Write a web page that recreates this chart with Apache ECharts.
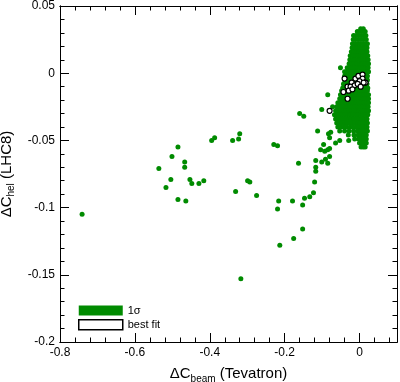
<!DOCTYPE html>
<html>
<head>
<meta charset="utf-8">
<script src="https://cdn.jsdelivr.net/npm/echarts@6/dist/echarts.min.js"></script>
<style>
  html, body { margin: 0; padding: 0; background: #fff; }
  #chart { width: 400px; height: 382px; }
</style>
</head>
<body>
<div id="chart"></div>
<script>
// axis ranges / tick steps
const xRange = [-0.8, 0.1]
const yRange = [-0.2, 0.05]
const xMajor = 0.2
const xMinor = 0.04
const yMajor = 0.05
const yMinor = 0.01

// 1 sigma scan points: dense band near the origin
const sigmaCore = [
  [0.003, 0.033], [0.010, 0.033],
  [-0.006, 0.031], [0.001, 0.031], [0.009, 0.031], [0.015, 0.031],
  [-0.016, 0.028], [-0.009, 0.028], [-0.002, 0.028], [0.005, 0.028], [0.012, 0.028], [0.017, 0.028],
  [-0.017, 0.025], [-0.010, 0.025], [-0.003, 0.025], [0.004, 0.025], [0.011, 0.025], [0.018, 0.025],
  [-0.019, 0.022], [-0.012, 0.022], [-0.005, 0.022], [0.002, 0.022], [0.009, 0.022], [0.016, 0.022], [0.021, 0.022],
  [-0.020, 0.019], [-0.013, 0.019], [-0.006, 0.019], [0.001, 0.019], [0.008, 0.019], [0.015, 0.019], [0.020, 0.019],
  [-0.022, 0.016], [-0.015, 0.016], [-0.008, 0.016], [-0.001, 0.016], [0.006, 0.016], [0.013, 0.016], [0.020, 0.016],
  [-0.025, 0.013], [-0.018, 0.013], [-0.011, 0.013], [-0.004, 0.013], [0.003, 0.013], [0.010, 0.013], [0.017, 0.013], [0.022, 0.013],
  [-0.026, 0.010], [-0.019, 0.010], [-0.012, 0.010], [-0.005, 0.010], [0.002, 0.010], [0.009, 0.010], [0.016, 0.010], [0.023, 0.010],
  [-0.028, 0.007], [-0.021, 0.007], [-0.014, 0.007], [-0.007, 0.007], [0.000, 0.007], [0.007, 0.007], [0.014, 0.007], [0.021, 0.007], [0.024, 0.007],
  [-0.051, 0.004], [-0.033, 0.004], [-0.026, 0.004], [-0.019, 0.004], [-0.012, 0.004], [-0.005, 0.004], [0.002, 0.004], [0.009, 0.004], [0.016, 0.004], [0.023, 0.004],
  [-0.040, 0.001], [-0.035, 0.001], [-0.028, 0.001], [-0.021, 0.001], [-0.014, 0.001], [-0.007, 0.001], [0.000, 0.001], [0.007, 0.001], [0.014, 0.001], [0.021, 0.001], [0.024, 0.001],
  [-0.040, -0.002], [-0.033, -0.002], [-0.026, -0.002], [-0.019, -0.002], [-0.012, -0.002], [-0.005, -0.002], [0.002, -0.002], [0.009, -0.002], [0.016, -0.002], [0.021, -0.002],
  [-0.040, -0.005], [-0.033, -0.005], [-0.026, -0.005], [-0.019, -0.005], [-0.012, -0.005], [-0.005, -0.005], [0.002, -0.005], [0.009, -0.005], [0.016, -0.005], [0.021, -0.005],
  [-0.043, -0.008], [-0.036, -0.008], [-0.029, -0.008], [-0.022, -0.008], [-0.015, -0.008], [-0.008, -0.008], [-0.001, -0.008], [0.006, -0.008], [0.013, -0.008], [0.020, -0.008],
  [-0.045, -0.011], [-0.038, -0.011], [-0.031, -0.011], [-0.024, -0.011], [-0.017, -0.011], [-0.010, -0.011], [-0.003, -0.011], [0.004, -0.011], [0.011, -0.011], [0.018, -0.011], [0.022, -0.011],
  [-0.048, -0.013], [-0.041, -0.013], [-0.034, -0.013], [-0.027, -0.013], [-0.020, -0.013], [-0.013, -0.013], [-0.006, -0.013], [0.001, -0.013], [0.008, -0.013], [0.015, -0.013], [0.021, -0.013],
  [-0.051, -0.016], [-0.044, -0.016], [-0.037, -0.016], [-0.030, -0.016], [-0.023, -0.016], [-0.016, -0.016], [-0.009, -0.016], [-0.002, -0.016], [0.005, -0.016], [0.012, -0.016], [0.019, -0.016], [0.024, -0.016],
  [-0.053, -0.019], [-0.046, -0.019], [-0.039, -0.019], [-0.032, -0.019], [-0.025, -0.019], [-0.018, -0.019], [-0.011, -0.019], [-0.004, -0.019], [0.003, -0.019], [0.010, -0.019], [0.017, -0.019], [0.024, -0.019],
  [-0.058, -0.022], [-0.051, -0.022], [-0.044, -0.022], [-0.037, -0.022], [-0.030, -0.022], [-0.023, -0.022], [-0.016, -0.022], [-0.009, -0.022], [-0.002, -0.022], [0.005, -0.022], [0.012, -0.022], [0.019, -0.022], [0.024, -0.022],
  [-0.061, -0.025], [-0.054, -0.025], [-0.047, -0.025], [-0.040, -0.025], [-0.033, -0.025], [-0.026, -0.025], [-0.019, -0.025], [-0.012, -0.025], [-0.005, -0.025], [0.002, -0.025], [0.009, -0.025], [0.016, -0.025], [0.023, -0.025],
  [-0.064, -0.028], [-0.057, -0.028], [-0.050, -0.028], [-0.043, -0.028], [-0.036, -0.028], [-0.029, -0.028], [-0.022, -0.028], [-0.015, -0.028], [-0.008, -0.028], [-0.001, -0.028], [0.006, -0.028], [0.013, -0.028], [0.020, -0.028], [0.024, -0.028],
  [-0.067, -0.031], [-0.060, -0.031], [-0.053, -0.031], [-0.046, -0.031], [-0.039, -0.031], [-0.032, -0.031], [-0.025, -0.031], [-0.018, -0.031], [-0.011, -0.031], [-0.004, -0.031], [0.003, -0.031], [0.010, -0.031], [0.017, -0.031], [0.022, -0.031],
  [-0.064, -0.034], [-0.057, -0.034], [-0.050, -0.034], [-0.043, -0.034], [-0.036, -0.034], [-0.029, -0.034], [-0.022, -0.034], [-0.015, -0.034], [-0.008, -0.034], [-0.001, -0.034], [0.006, -0.034], [0.013, -0.034], [0.020, -0.034],
  [-0.061, -0.037], [-0.054, -0.037], [-0.047, -0.037], [-0.040, -0.037], [-0.033, -0.037], [-0.026, -0.037], [-0.019, -0.037], [-0.012, -0.037], [-0.005, -0.037], [0.002, -0.037], [0.009, -0.037], [0.016, -0.037], [0.021, -0.037],
  [-0.058, -0.040], [-0.050, -0.040], [-0.042, -0.040], [-0.034, -0.040], [-0.025, -0.040], [-0.017, -0.040], [-0.008, -0.040], [-0.001, -0.040], [0.006, -0.040], [0.013, -0.040], [0.020, -0.040],
  [-0.053, -0.043], [-0.040, -0.043], [-0.028, -0.043], [-0.016, -0.043], [-0.006, -0.043], [0.002, -0.043], [0.009, -0.043], [0.016, -0.043], [0.021, -0.043],
  [-0.030, -0.046], [-0.015, -0.046], [-0.004, -0.046], [0.004, -0.046], [0.011, -0.046], [0.018, -0.046],
  [-0.013, -0.049], [-0.003, -0.049], [0.005, -0.049], [0.012, -0.049], [0.018, -0.049],
  [0.000, -0.052], [0.007, -0.052], [0.013, -0.052], [0.018, -0.052],
  [0.004, -0.055], [0.010, -0.055], [0.015, -0.055]
]

// 1 sigma scan points: scattered ones
const sigmaOutliers = [
  [-0.741, -0.105],
  [-0.536, -0.071], [-0.517, -0.085], [-0.504, -0.079], [-0.501, -0.062], [-0.485, -0.055], [-0.485, -0.094],
  [-0.467, -0.066], [-0.467, -0.070], [-0.464, -0.095], [-0.453, -0.079], [-0.448, -0.082], [-0.429, -0.082], [-0.416, -0.080],
  [-0.395, -0.050], [-0.387, -0.048], [-0.339, -0.050], [-0.323, -0.049], [-0.320, -0.045], [-0.331, -0.088], [-0.317, -0.153],
  [-0.299, -0.080], [-0.293, -0.081], [-0.275, -0.091], [-0.229, -0.053], [-0.219, -0.054], [-0.219, -0.101], [-0.216, -0.095],
  [-0.213, -0.128], [-0.179, -0.095], [-0.176, -0.123], [-0.163, -0.067], [-0.160, -0.030], [-0.149, -0.032], [-0.152, -0.098],
  [-0.152, -0.116], [-0.147, -0.093], [-0.133, -0.092], [-0.123, -0.089], [-0.120, -0.081], [-0.117, -0.070], [-0.117, -0.073],
  [-0.117, -0.065], [-0.112, -0.043], [-0.104, -0.057], [-0.101, -0.066], [-0.101, -0.027], [-0.096, -0.053], [-0.091, -0.064],
  [-0.085, -0.067], [-0.085, -0.057], [-0.080, -0.056], [-0.080, -0.062], [-0.064, -0.052], [-0.080, -0.048], [-0.083, -0.045],
  [-0.077, -0.044], [-0.085, -0.016], [-0.072, -0.025], [-0.093, -0.058], [-0.053, -0.050], [-0.029, -0.050], [0.005, -0.052], [0.008, -0.054]
]

// best fit points
const bestFit = [
  [-0.040, -0.004], [-0.021, -0.007], [-0.011, -0.004], [-0.003, -0.002], [0.008, -0.001],
  [0.008, -0.004], [0.016, -0.007], [0.000, -0.006], [-0.032, -0.010], [-0.024, -0.010],
  [-0.013, -0.009], [-0.005, -0.008], [0.003, -0.010], [0.011, -0.007], [-0.043, -0.014],
  [-0.029, -0.013], [-0.019, -0.012], [-0.032, -0.019], [-0.080, -0.028]
]

const green = '#008b00'
const font = 'Liberation Sans, Arial, Helvetica, sans-serif'

const chart = echarts.init(document.getElementById('chart'))

// both grids share the same fixed box (no auto shrinking for labels)
const gridBox = { left: 60, right: 3, top: 6, bottom: 40, containLabel: false, outerBoundsMode: 'none' }
const axisLine = { show: true, onZero: false, lineStyle: { color: '#000', width: 1 } }
const majorTick = { show: true, inside: true, length: 9, lineStyle: { color: '#000', width: 1 } }
const shortTick = { show: true, inside: true, length: 4.5, lineStyle: { color: '#000', width: 1 } }
const nameRich = {
  m: { fontSize: 15, lineHeight: 20, color: '#000', fontFamily: font },
  s: { fontSize: 10, lineHeight: 10, padding: [10, 0, 0, 0], color: '#000', fontFamily: font }
}

// builds an axis on the given grid; grid 1 only carries the short ticks
function makeAxis(range, step, pos, grid, extra) {
  return Object.assign({
    type: 'value',
    gridIndex: grid,
    position: pos,
    min: range[0],
    max: range[1],
    interval: step,
    splitLine: { show: false },
    axisLine: axisLine,
    axisTick: grid === 1 ? shortTick : majorTick,
    axisLabel: { show: false }
  }, extra || {})
}

const option = {
  animation: false,
  textStyle: { fontFamily: font },
  grid: [gridBox, gridBox],
  legend: {
    orient: 'vertical',
    left: 78,
    top: 305,
    padding: 0,
    itemWidth: 44,
    itemHeight: 10,
    itemGap: 3,
    textStyle: { fontSize: 11, color: '#000', fontFamily: font },
    data: [
      { name: '1σ', icon: 'rect', itemStyle: { color: green, borderWidth: 0 } },
      { name: 'best fit', icon: 'rect', itemStyle: { color: '#fff', borderColor: '#000', borderWidth: 1.5 } }
    ]
  },
  xAxis: [
    makeAxis(xRange, xMajor, 'bottom', 0, {
      axisLabel: { show: true, showMaxLabel: false, fontSize: 12, color: '#000', margin: 5, fontFamily: font },
      name: '{m|ΔC}{s|beam}{m| (Tevatron)}',
      nameLocation: 'middle',
      nameGap: 16,
      nameTextStyle: { color: '#000', rich: nameRich }
    }),
    makeAxis(xRange, xMajor, 'top', 0),
    makeAxis(xRange, xMinor, 'bottom', 1),
    makeAxis(xRange, xMinor, 'top', 1)
  ],
  yAxis: [
    makeAxis(yRange, yMajor, 'left', 0, {
      axisLabel: { show: true, fontSize: 12, color: '#000', margin: 5, fontFamily: font },
      name: '{m|ΔC}{s|hel}{m| (LHC8)}',
      nameLocation: 'middle',
      nameGap: 31,
      nameTextStyle: { color: '#000', rich: nameRich }
    }),
    makeAxis(yRange, yMajor, 'right', 0),
    makeAxis(yRange, yMinor, 'left', 1),
    makeAxis(yRange, yMinor, 'right', 1)
  ],
  series: [
    {
      name: '1σ',
      type: 'scatter',
      xAxisIndex: 0,
      yAxisIndex: 0,
      symbol: 'circle',
      symbolSize: 5,
      itemStyle: { color: green, opacity: 1 },
      data: sigmaCore.concat(sigmaOutliers)
    },
    {
      name: 'best fit',
      type: 'scatter',
      xAxisIndex: 0,
      yAxisIndex: 0,
      symbol: 'circle',
      symbolSize: 5,
      itemStyle: { color: '#fff', borderColor: '#000', borderWidth: 1.2, opacity: 1 },
      data: bestFit
    }
  ]
}

chart.setOption(option)
</script>
</body>
</html>
